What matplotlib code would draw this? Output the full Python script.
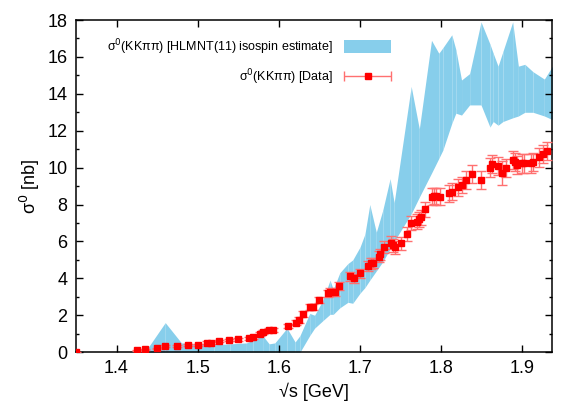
import numpy as np
import matplotlib
matplotlib.use("Agg")
from matplotlib import pyplot as plt
from matplotlib.ticker import MultipleLocator
from matplotlib.legend_handler import HandlerErrorbar

plt.rcParams['font.family'] = ['Liberation Sans', 'DejaVu Sans']

# isospin estimate band (lower / upper edge)
band_x = [1.435, 1.46, 1.48, 1.50, 1.52, 1.54, 1.56, 1.568, 1.58, 1.588, 1.595,
          1.61, 1.62, 1.626, 1.638, 1.644, 1.654, 1.663, 1.667, 1.675, 1.685,
          1.691, 1.70, 1.706, 1.712, 1.72, 1.728, 1.737, 1.742, 1.763, 1.773,
          1.788, 1.797, 1.802, 1.813, 1.818, 1.825, 1.835, 1.849, 1.86, 1.864,
          1.87, 1.876, 1.888, 1.895, 1.903, 1.913, 1.927, 1.937]
band_lo = [0, 0, 0, 0, 0, 0, 0, 0, 0, 0, 0,
           0, 0, 0, 0.9, 1.3, 1.7, 2.05, 2.05, 2.4, 2.7,
           2.65, 3.2, 3.5, 3.9, 4.4, 4.9, 5.6, 6.0, 7.5, 8.4,
           9.7, 10.5, 10.95, 12.4, 12.95, 12.85, 13.4, 13.4, 12.2, 12.5,
           12.3, 12.5, 12.7, 12.8, 13.0, 13.0, 12.8, 12.6]
band_hi = [0, 1.6, 0.5, 0.45, 0.4, 0.45, 0.5, 0.65, 0.9, 0.45, 0.5,
           1.3, 0.55, 0.9, 2.1, 2.0, 2.8, 3.9, 3.4, 4.3, 4.8,
           5.0, 5.7, 6.4, 8.0, 6.5, 7.7, 9.4, 8.1, 14.4, 12.1,
           16.9, 16.2, 16.5, 17.2, 16.4, 14.75, 15.1, 17.9, 16.7, 16.2,
           15.5, 16.3, 17.9, 15.5, 15.6, 15.2, 14.8, 15.5]

# data points
data_x = [1.35, 1.425, 1.435, 1.45, 1.46, 1.475, 1.488, 1.50, 1.512, 1.516,
          1.526, 1.539, 1.55, 1.563, 1.568, 1.577, 1.58, 1.588, 1.593, 1.611,
          1.621, 1.625, 1.63, 1.638, 1.642, 1.65, 1.66, 1.663, 1.669, 1.674,
          1.687, 1.692, 1.70, 1.71, 1.713, 1.716, 1.723, 1.725, 1.73, 1.738,
          1.74, 1.743, 1.75, 1.758, 1.763, 1.77, 1.773, 1.775, 1.78, 1.788,
          1.791, 1.794, 1.798, 1.81, 1.813, 1.821, 1.826, 1.83, 1.838, 1.849,
          1.86, 1.863, 1.87, 1.875, 1.88, 1.888, 1.891, 1.893, 1.90, 1.902,
          1.91, 1.913, 1.92, 1.925, 1.93]
data_y = [0.0, 0.1, 0.15, 0.2, 0.33, 0.35, 0.37, 0.37, 0.52, 0.52,
          0.61, 0.65, 0.69, 0.74, 0.8, 0.98, 1.08, 1.19, 1.19, 1.42,
          1.6, 1.75, 2.08, 2.46, 2.43, 2.82, 3.18, 3.27, 3.27, 3.58,
          4.12, 4.0, 4.27, 4.66, 4.81, 4.84, 5.17, 5.3, 5.68, 5.93,
          5.8, 5.68, 5.9, 6.4, 7.0, 7.07, 7.2, 7.3, 7.74, 8.42,
          8.47, 8.44, 8.42, 8.6, 8.7, 8.93, 9.05, 9.33, 9.65, 9.33,
          10.0, 10.2, 10.08, 9.7, 9.99, 10.4, 10.3, 10.14, 10.23, 10.23,
          10.23, 10.3, 10.56, 10.74, 10.9]
data_err = [0.02, 0.04, 0.04, 0.05, 0.05, 0.05, 0.05, 0.05, 0.06, 0.06,
            0.06, 0.07, 0.07, 0.08, 0.08, 0.1, 0.1, 0.12, 0.12, 0.13,
            0.14, 0.15, 0.15, 0.17, 0.17, 0.18, 0.2, 0.2, 0.2, 0.22,
            0.25, 0.25, 0.25, 0.28, 0.28, 0.28, 0.3, 0.3, 0.32, 0.35,
            0.35, 0.35, 0.35, 0.38, 0.38, 0.4, 0.4, 0.4, 0.4, 0.45,
            0.45, 0.45, 0.45, 0.45, 0.45, 0.45, 0.45, 0.5, 0.5, 0.5,
            0.5, 0.5, 0.5, 0.65, 0.5, 0.5, 0.5, 0.5, 0.5, 0.5,
            0.5, 0.5, 0.5, 0.5, 0.5]

fig = plt.figure(figsize=(5.84, 4.09), dpi=100)
ax = fig.add_axes([0.130, 0.139, 0.816, 0.812])

band_color = "#87ceeb"
for i in range(len(band_x) - 1):
    ax.fill_between(band_x[i:i + 2], band_lo[i:i + 2], band_hi[i:i + 2],
                    color=band_color, linewidth=0,
                    label="σ$^0$(KKππ) [HLMNT(11) isospin estimate]" if i == 0 else None)

ax.errorbar(data_x, data_y, yerr=data_err, fmt="s", color="red", markersize=4.5,
            ecolor="#ff7070", elinewidth=1, capsize=3.5, capthick=1, zorder=3)
# legend entry in gnuplot style (horizontal bar with caps)
leg_eb = ax.errorbar([np.nan], [np.nan], xerr=[1], fmt="s", color="red", markersize=4.5,
                     ecolor="#ff7070", elinewidth=1, capsize=3.5, capthick=1,
                     label="σ$^0$(KKππ) [Data]")

ax.set_xlim(1.35, 1.937)
ax.set_ylim(0, 18)
ax.xaxis.set_major_locator(MultipleLocator(0.1))
ax.yaxis.set_major_locator(MultipleLocator(2))
ax.yaxis.set_minor_locator(MultipleLocator(1))
ax.tick_params(which="both", direction="in", top=True, right=True, labelsize=13, width=1)
ax.tick_params(which="major", length=5, pad=6)
ax.tick_params(which="minor", length=2.5)
for s in ax.spines.values():
    s.set_linewidth(1.1)

ax.set_xlabel("√s [GeV]", fontsize=13)
ax.set_ylabel("σ$^0$ [nb]", fontsize=13)

ax.legend(loc="upper right", bbox_to_anchor=(0.675, 0.968), frameon=False,
          markerfirst=False, fontsize=9, handlelength=3.8, handleheight=1.2,
          labelspacing=0.9, borderpad=0, handletextpad=0.9,
          handler_map={leg_eb: HandlerErrorbar(xerr_size=1.85)})

fig.savefig("out.png", dpi=100)
